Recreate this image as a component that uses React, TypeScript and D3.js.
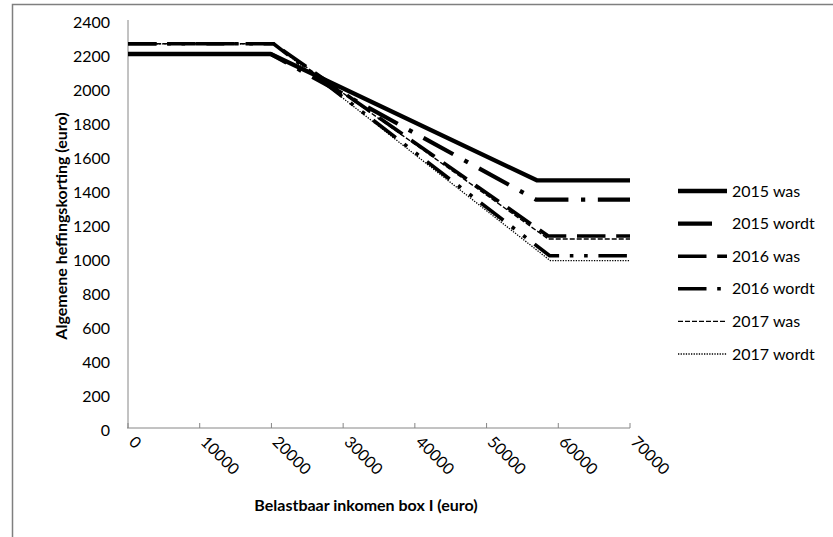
import React from "react";
import * as d3 from "d3";

const incomeTicks = [0, 10000, 20000, 30000, 40000, 50000, 60000, 70000];
const creditTicks = [0, 200, 400, 600, 800, 1000, 1200, 1400, 1600, 1800, 2000, 2200, 2400];

const seriesNames = ["2015 was", "2015 wordt", "2016 was", "2016 wordt", "2017 was", "2017 wordt"];

const income2015was = [0, 19900, 57000, 70000];
const credit2015was = [2200, 2200, 1457, 1457];
const income2015wordt = [0, 19900, 56900, 70000];
const credit2015wordt = [2200, 2200, 1343, 1343];
const income2016was = [0, 20300, 58600, 70000];
const credit2016was = [2260, 2260, 1129, 1129];
const income2016wordt = [0, 20300, 58800, 70000];
const credit2016wordt = [2260, 2260, 1013, 1013];
const income2017was = [0, 20300, 58600, 70000];
const credit2017was = [2260, 2260, 1112, 1112];
const income2017wordt = [0, 20300, 58900, 70000];
const credit2017wordt = [2260, 2260, 984, 984];

const seriesIncome = [income2015was, income2015wordt, income2016was, income2016wordt, income2017was, income2017wordt];
const seriesCredit = [credit2015was, credit2015wordt, credit2016was, credit2016wordt, credit2017was, credit2017wordt];

const styles = [
  { w: 4.3, dash: "none" },
  { w: 4.2, dash: "34 12.6 4.2 12.6" },
  { w: 3.6, dash: "28.5 10.7" },
  { w: 3.6, dash: "28.5 10.7 3.6 10.7 3.6 10.7" },
  { w: 1.4, dash: "5 2" },
  { w: 1.3, dash: "1.3 1.3" },
];

const FONT = "Lato, 'Open Sans', sans-serif";

export default function App() {
  const x = d3.scaleLinear().domain([0, 70000]).range([128, 630]);
  const y = d3.scaleLinear().domain([0, 2400]).range([428, 20]);
  const line = d3
    .line<[number, number]>()
    .x((d) => x(d[0]))
    .y((d) => y(d[1]));
  const axisColor = "#868686";

  return (
    <svg
      width={833}
      height={537}
      style={{ position: "absolute", left: 0, top: 0, background: "#fff" }}
      fontFamily={FONT}
    >
      <rect x={0} y={0} width={833} height={537} fill="#fff" />
      <rect x={12.5} y={4.5} width={900} height={600} fill="none" stroke="#7f7f7f" strokeWidth={1.5} />

      {/* axes */}
      <line x1={x(0)} x2={x(0)} y1={y(2400)} y2={y(0)} stroke={axisColor} strokeWidth={1} />
      <line x1={x(0) - 1} x2={x(70000)} y1={y(0)} y2={y(0)} stroke={axisColor} strokeWidth={1} />
      {incomeTicks.map((t) => (
        <line key={"t" + t} x1={x(t)} x2={x(t)} y1={y(0) - 5} y2={y(0)} stroke={axisColor} strokeWidth={1} />
      ))}

      {creditTicks.map((t) => (
        <text key={"y" + t} x={110} y={y(t) + 2} dy="0.35em" textAnchor="end" fontSize={16} fill="#000">
          {t}
        </text>
      ))}

      {incomeTicks.map((t) => (
        <text
          key={"x" + t}
          transform={`translate(${x(t) + 0},${443}) rotate(45)`}
          textAnchor="start"
          fontSize={16}
          fill="#000"
        >
          {t}
        </text>
      ))}

      <text
        transform={`translate(67,226) rotate(-90)`}
        textAnchor="middle"
        fontSize={16}
        fontWeight="bold"
        fill="#000"
      >
        Algemene heffingskorting (euro)
      </text>
      <text x={366} y={511} textAnchor="middle" fontSize={16} fontWeight="bold" fill="#000">
        Belastbaar inkomen box I (euro)
      </text>

      {/* series */}
      {seriesNames.map((name, i) => {
        const pts = seriesIncome[i].map((v, j) => [v, seriesCredit[i][j]] as [number, number]);
        return (
          <path
            key={name}
            d={line(pts) || ""}
            fill="none"
            stroke="#000"
            strokeWidth={styles[i].w}
            strokeDasharray={styles[i].dash}
            strokeLinejoin="round"
          />
        );
      })}

      {/* legend */}
      {seriesNames.map((name, i) => {
        const ly = 191 + i * 32.6;
        return (
          <g key={"l" + name}>
            <line
              x1={678}
              x2={i === 1 ? 724 : 727}
              y1={ly}
              y2={ly}
              stroke="#000"
              strokeWidth={styles[i].w}
              strokeDasharray={styles[i].dash}
            />
            <text x={732} y={ly} dy="0.35em" fontSize={16} fill="#000">
              {name}
            </text>
          </g>
        );
      })}
    </svg>
  );
}
